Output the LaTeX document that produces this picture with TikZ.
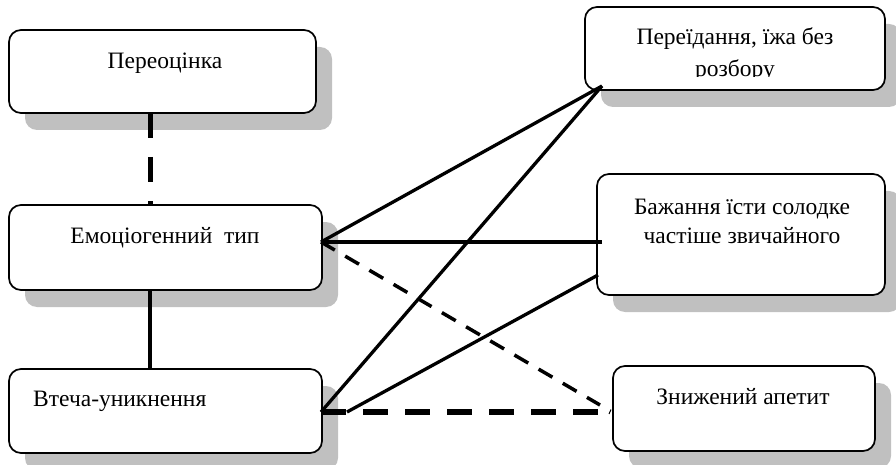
\documentclass[tikz,border=0pt]{standalone}
\usepackage{fontspec}
\setmainfont{Liberation Serif}
\usetikzlibrary{shadows}
\definecolor{shadowgray}{HTML}{C0C0C0}
\begin{document}
\begin{tikzpicture}[x=1pt,y=-1pt,
  box/.style={draw=black, line width=1.7pt, rounded corners=12pt, fill=white, inner sep=0pt,
    general shadow={fill=shadowgray, draw=none, shadow xshift=16pt, shadow yshift=-17pt}},
  txt/.style={font=\fontsize{23.5}{29}\selectfont, inner sep=0pt, align=center},
  link/.style={line width=3.3pt},
  thindash/.style={line width=3.5pt, dash pattern=on 16pt off 12pt},
  thickdash/.style={line width=5.3pt, dash pattern=on 25pt off 17pt},
  vdash/.style={line width=5pt, dash pattern=on 25pt off 19pt}]
\useasboundingbox (0,0) rectangle (896,465);
% boxes
\node[box, minimum width=307pt, minimum height=83pt] (b1) at (162.5,71.5) {};
\node[box, minimum width=313pt, minimum height=85pt] (b2) at (165.5,247.5) {};
\node[box, minimum width=313pt, minimum height=84pt] (b3) at (165.5,411) {};
\node[box, minimum width=300pt, minimum height=83pt] (r1) at (735,48.5) {};
\node[box, minimum width=288pt, minimum height=121pt] (r2) at (741,234.5) {};
\node[box, minimum width=262pt, minimum height=85pt] (r3) at (744,408.5) {};
% texts
\node[txt] (t1) at (165,63) {Переоцінка};
\node[txt] (t2) at (165,237.5) {Емоціогенний\ \ тип};
\node[txt, anchor=west] (t3) at (33,401) {Втеча-уникнення};
\begin{scope}
  \clip (585,7) rectangle (885,76.5);
  \node[txt, font=\fontsize{23.5}{32}\selectfont] (tr1) at (735,54.5) {Переїдання, їжа без\\розбору};
\end{scope}
\node[txt] (tr2) at (742,221) {Бажання їсти солодке\\частіше звичайного};
\node[txt] (tr3) at (743,397) {Знижений апетит};
% connector points
\coordinate (b1s) at (150,113);
\coordinate (b2n) at (150,205);
\coordinate (b2s) at (150,290);
\coordinate (b3n) at (150,369);
\coordinate (r1c) at (602,86);
\coordinate (b2e) at (321,242);
\coordinate (b3e) at (321,412);
\coordinate (r2a) at (602,242);
\coordinate (r2b) at (598,275);
\coordinate (b3m) at (347,412);
\coordinate (r3w) at (600,405);
\coordinate (r3h) at (600,412);
\coordinate (tk1) at (609,414);
\coordinate (tk2) at (611,409.5);
% connectors
\draw[vdash] (b1s) -- (b2n);
\draw[link] (b2s) -- (b3n);
\draw[link] (r1c) -- (b2e);
\draw[link] (r1c) -- (b3e);
\draw[link] (r2a) -- (b2e);
\draw[link] (r2b) -- (b3m);
\draw[thindash] (b2e) -- (r3w);
\draw[thickdash] (b3e) -- (r3h);
\draw[line width=1pt] (tk1) -- (tk2);
\end{tikzpicture}
\end{document}
